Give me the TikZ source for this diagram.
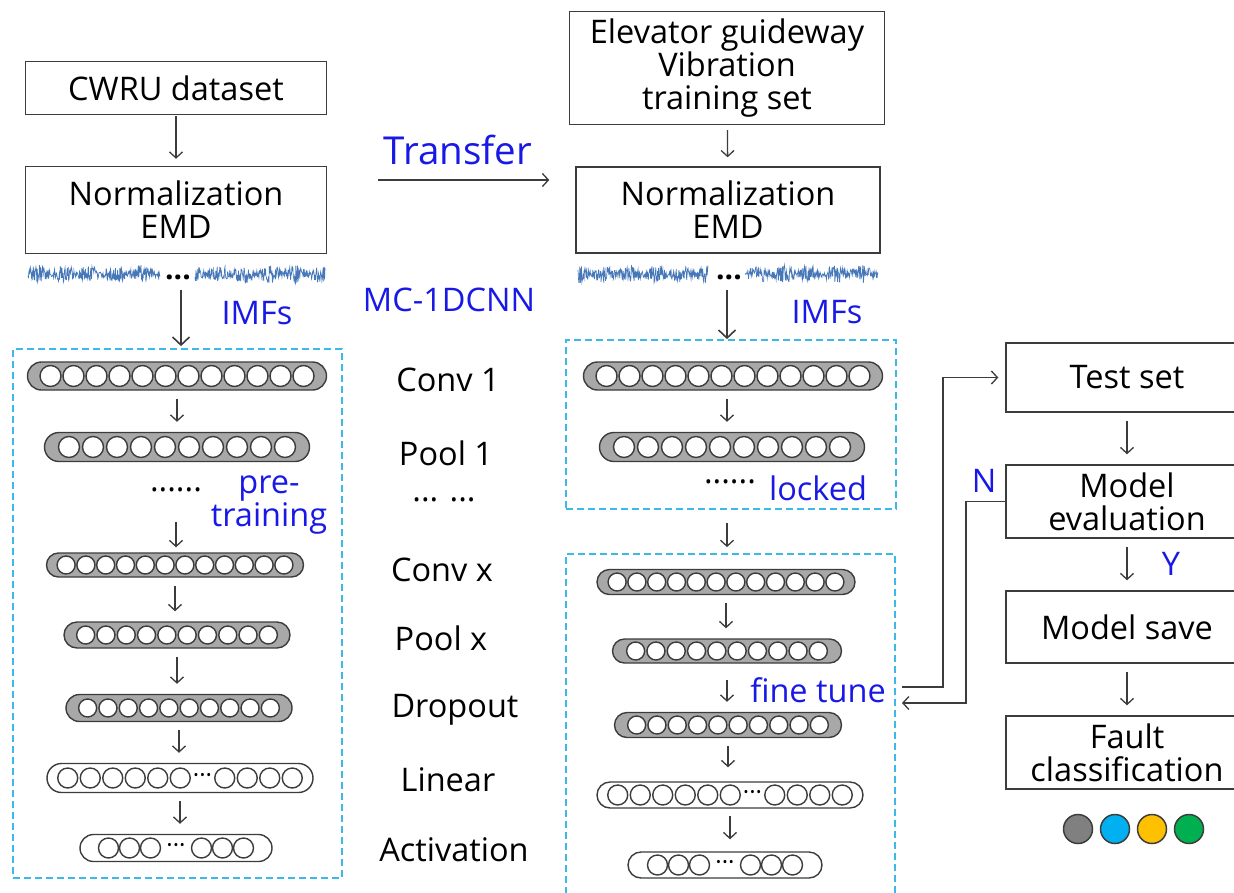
\documentclass[tikz,border=0pt]{standalone}
\usepackage{fontspec}
\setmainfont{Open Sans}
\usetikzlibrary{arrows.meta,shapes.misc}

\definecolor{lblue}{RGB}{25,25,230}
\definecolor{dashcyan}{RGB}{60,185,230}
\definecolor{pillgray}{RGB}{168,168,168}
\definecolor{linegray}{RGB}{60,60,60}
\definecolor{wavblue}{RGB}{70,120,185}
\definecolor{cgray}{RGB}{128,128,128}
\definecolor{ccyan}{RGB}{0,176,240}
\definecolor{cgold}{RGB}{255,192,0}
\definecolor{cgreen}{RGB}{0,176,80}

% name, cx, cy, width, height, count, pitch, neuron size, fill
\newcommand{\layer}[9]{%
  \node[pill, #9, minimum width=#4, minimum height=#5] (#1) at (#2,#3) {};
  \foreach \k in {1,...,#6}
    \node[neuron, minimum size=#8] (#1-\k) at ({#2+(\k-(#6+1)/2)*#7},#3) {};
}
% name, cx, cy, width, height, left count, right count, pitch, gap
\newcommand{\splitlayer}[9]{%
  \node[pill, fill=white, minimum width=#4, minimum height=#5] (#1) at (#2,#3) {};
  \pgfmathsetmacro{\splitx}{#2-(#6+#7)*#8/2-#9/2}
  \foreach \k in {1,...,#6}
    \node[neuron] (#1-a\k) at ({\splitx+(\k-0.5)*#8},#3) {};
  \node[gapdots] (#1-dots) at ({\splitx+#6*#8+#9/2},#3) {···};
  \foreach \k in {1,...,#7}
    \node[neuron] (#1-b\k) at ({\splitx+#6*#8+#9+(\k-0.5)*#8},#3) {};
}

\begin{document}
\begin{tikzpicture}[x=1pt, y=-1pt,
  font=\fontsize{32.5}{33}\selectfont,
  box/.style={draw=linegray, line width=1.4pt, inner sep=0pt, align=center},
  pill/.style={rounded rectangle, draw=linegray, line width=1.4pt, inner sep=0pt},
  neuron/.style={circle, draw=linegray, line width=1.4pt, fill=white, inner sep=0pt, minimum size=20},
  gapdots/.style={inner sep=0pt, font=\fontsize{24}{24}\selectfont},
  dashbox/.style={draw=dashcyan, line width=1.8pt, dash pattern=on 7pt off 4pt, inner sep=0pt},
  note/.style={text=lblue, inner sep=0pt, align=center},
  arr/.style={draw=linegray, line width=1.3pt, -{Straight Barb[length=6pt,width=13pt]},
    shorten <=8pt, shorten >=10pt},
  bigarr/.style={draw=linegray, line width=1.6pt, -{Straight Barb[length=8pt,width=17pt]}},
  wave/.style={draw=wavblue, line width=0.7pt},
  cls/.style={circle, draw=linegray, line width=1.5pt, minimum size=29, inner sep=0pt}]
\useasboundingbox (0,0) rectangle (1234,892);

% source side
\node[box, minimum width=301, minimum height=53] (cwru) at (176,88) {CWRU dataset};
\node[box, minimum width=301, minimum height=87] (normL) at (176,210) {Normalization\\EMD};
% target side
\node[box, minimum width=315, minimum height=113] (elev) at (727,68) {Elevator guideway\\Vibration\\training set};
\node[box, minimum width=304, minimum height=86] (normR) at (728,210) {Normalization\\EMD};

\draw[arr, shorten <=1pt, shorten >=7pt] (cwru) -- (normL);
\draw[arr, shorten <=5pt, shorten >=9pt] (elev) -- (normR);
\draw[arr, shorten <=51pt, shorten >=26pt] ([yshift=30pt]normL.east) -- ([yshift=30pt]normR.west);
\node[note, font=\fontsize{38.5}{40}\selectfont] (transfer) at (458,150) {Transfer};

% IMF signals
\pgfmathsetseed{3}
\foreach \a/\b in {28/160, 195/325, 578/708, 745/878}
  \draw[wave] plot[domain=\a:\b, samples=300] (\x,{274+(3+6*abs(sin(7*\x)))*rand});
\node[inner sep=0pt, font=\fontsize{30}{30}\bfseries] (wdL) at (178,277) {...};
\node[inner sep=0pt, font=\fontsize{30}{30}\bfseries] (wdR) at (729,277) {...};

\node[dashbox, minimum width=329, minimum height=529] (preL) at (177.5,613.5) {};
\node[dashbox, minimum width=330, minimum height=169] (lockR) at (731,424.5) {};
\node[dashbox, minimum width=329, minimum height=351] (tuneR) at (730.5,729.5) {};

\coordinate (imfL) at (181,290);
\coordinate (imfR) at (727,290);
\draw[bigarr, shorten >=2pt] (imfL) -- (imfL |- preL.north);
\draw[bigarr] (imfR) -- (imfR |- lockR.north);
\node[note] (imfsL) at (257,313) {IMFs};
\node[note] (imfsR) at (827,312) {IMFs};
\node[note] (mcnn) at (449,300) {MC-1DCNN};

% pre-training network
\layer{c1L}{177}{376}{299}{28}{12}{23}{21}{fill=pillgray}
\layer{p1L}{177}{447}{265}{29}{10}{24}{21}{fill=pillgray}
\node[inner sep=0pt] (dotsL) at (176,490) {......};
\node[note] (preT) at (269,505) {pre-\\training};
\layer{cxL}{175}{565}{257}{24}{12}{19.8}{18}{fill=pillgray}
\layer{pxL}{177}{635}{226}{26}{10}{20.3}{18}{fill=pillgray}
\layer{doL}{179}{708}{226}{27}{10}{20.3}{18}{fill=pillgray}
\splitlayer{liL}{180}{778}{266}{29}{6}{4}{22.5}{22}
\splitlayer{acL}{176}{848}{192}{27}{3}{3}{21}{30}

\draw[arr] (c1L.south) -- (c1L.south |- p1L.north);
\draw[arr, shorten <=30pt, shorten >=5pt] (dotsL.south) -- (dotsL.south |- cxL.north);
\draw[arr] (cxL.south) -- (cxL.south |- pxL.north);
\draw[arr] (pxL.south) -- (pxL.south |- doL.north);
\draw[arr] (doL.south) -- (doL.south |- liL.north);
\draw[arr] (liL.south) -- (liL.south |- acL.north);

% layer names
\node (n1) at (448,380) {Conv 1};
\node (n2) at (446,453) {Pool 1};
\node (n3) at (444,500) {... ...};
\node (n4) at (442,570) {Conv x};
\node (n5) at (441,638) {Pool x};
\node (n6) at (455,710) {Dropout};
\node (n7) at (448,780) {Linear};
\node (n8) at (454,850) {Activation};

% transferred network
\layer{c1R}{733}{376}{299}{28}{12}{23}{21}{fill=pillgray}
\layer{p1R}{732}{447}{265}{29}{10}{24}{21}{fill=pillgray}
\node[inner sep=0pt] (dotsR) at (730,482) {......};
\node[note] (locked) at (818,488) {locked};
\layer{cxR}{726}{582}{258}{25}{12}{19.8}{18}{fill=pillgray}
\layer{pxR}{727}{651}{229}{24}{10}{20.3}{18}{fill=pillgray}
\node[note] (fine) at (818,690) {fine tune};
\layer{doR}{728}{725}{227}{25}{10}{20.3}{18}{fill=pillgray}
\splitlayer{liR}{730}{795}{266}{26}{6}{4}{22.5}{22}
\splitlayer{acR}{725}{865}{194}{26}{3}{3}{21}{30}

\draw[arr] ([xshift=-6pt]c1R.south) -- ([xshift=-6pt]c1R.south |- p1R.north);
\draw[arr, shorten <=13pt, shorten >=6pt] (imfR |- lockR.south) -- (imfR |- tuneR.north);
\draw[arr] (cxR.south) -- (cxR.south |- pxR.north);
\draw[arr, shorten <=16pt] (pxR.south) -- (pxR.south |- doR.north);
\draw[arr, shorten >=14pt] (doR.south) -- (doR.south |- liR.north);
\draw[arr, shorten <=7pt, shorten >=12pt] (liR.south) -- (liR.south |- acR.north);

% evaluation
\node[box, minimum width=242, minimum height=69] (testset) at (1127,377.5) {Test set};
\node[box, minimum width=242, minimum height=73] (evalbox) at (1127,501.5) {Model\\evaluation};
\node[box, minimum width=242, minimum height=72] (savebox) at (1127,627) {Model save};
\node[box, minimum width=242, minimum height=73] (fault) at (1127,752.5) {Fault\\classification};

\draw[arr] (testset) -- (evalbox);
\draw[arr] (evalbox) -- (savebox);
\draw[arr] (savebox) -- (fault);
\node[note] (yes) at (1171,564) {Y};
\node[note] (no) at (984,481) {N};

\coordinate (tuneout) at (902,687);
\coordinate (tunein) at (902,703);
\draw[arr, shorten <=0pt, shorten >=7pt] (tuneout) -- (943,687) |- (testset.west);
\draw[arr, shorten <=0pt, shorten >=0pt] (evalbox.west) -- (966,501.5) |- (tunein);

\foreach \c [count=\i] in {cgray,ccyan,cgold,cgreen}
  \node[cls, fill=\c] (cls\i) at (1041+37*\i,829) {};
\end{tikzpicture}
\end{document}
